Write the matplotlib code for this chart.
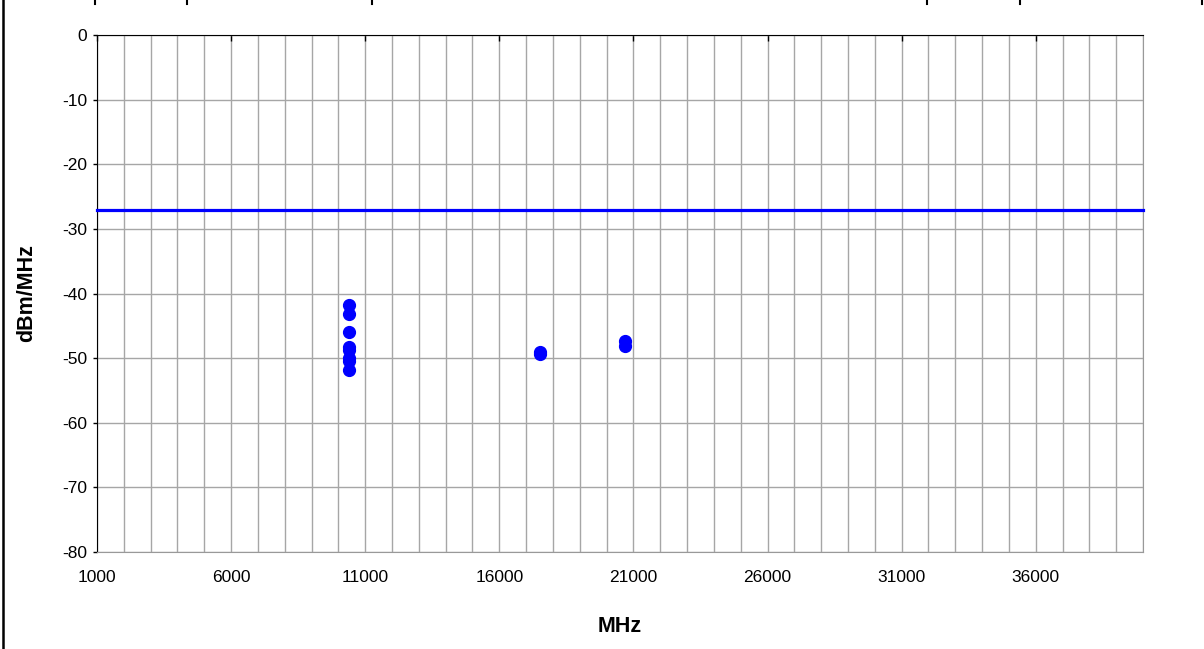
import matplotlib.pyplot as plt
from matplotlib.lines import Line2D

plt.rcParams['font.family'] = ['Liberation Sans', 'DejaVu Sans']
plt.rcParams['axes.unicode_minus'] = False

# measured emissions (MHz, dBm/MHz)
freq_mhz = [10400, 10400, 10400, 10400, 10400, 10400, 10400, 10400,
            17500, 17500, 20700, 20700]
level_dbm = [-41.8, -43.2, -45.9, -48.3, -48.8, -50.0, -50.5, -51.8,
             -49.0, -49.4, -47.3, -48.1]
limit_dbm = -27

x_ticks = list(range(1000, 40000, 5000))
y_ticks = list(range(-80, 1, 10))

fig = plt.figure(figsize=(12.04, 6.49), dpi=100)
ax = fig.add_axes([0.0806, 0.1495, 0.8687, 0.7965])

ax.set_xlim(1000, 40000)
ax.set_ylim(-80, 0)
ax.set_xticks(x_ticks)
ax.set_xticks(range(1000, 40001, 1000), minor=True)
ax.set_yticks(y_ticks)

ax.grid(True, which='both', axis='x', color='#a6a6a6', linewidth=1)
ax.grid(True, which='major', axis='y', color='#a6a6a6', linewidth=1)
ax.set_axisbelow(True)

ax.tick_params(axis='x', which='major', top=True, bottom=False, labeltop=False,
               labelbottom=True, direction='in', length=4, width=1, pad=13,
               labelsize=12.5)
ax.tick_params(axis='x', which='minor', top=False, bottom=False)
ax.tick_params(axis='y', direction='out', length=3, width=1, pad=4,
               labelsize=12.5)

for side in ['left', 'top']:
    ax.spines[side].set_color('black')
for side in ['right', 'bottom']:
    ax.spines[side].set_color('#999999')

ax.axhline(limit_dbm, color='#0000ff', linewidth=2.3, clip_on=False, zorder=3)
ax.plot(freq_mhz, level_dbm, 'o', color='#0000ff', markersize=8.5, zorder=4)

ax.set_xlabel('MHz', fontsize=15.5, fontweight='bold', va='center')
ax.set_ylabel('dBm/MHz', fontsize=15.5, fontweight='bold', va='center')
ax.xaxis.set_label_coords(0.5, (552 - 627) / 517)
ax.yaxis.set_label_coords((27 - 97) / 1046, 0.5)

# frame bits from the surrounding page
fig.add_artist(Line2D([3 / 1204, 3 / 1204], [0, 1], color='black', linewidth=1.8))
for px in [95, 187, 372, 927, 1020, 1202]:
    fig.add_artist(Line2D([px / 1204, px / 1204], [1 - 4 / 649, 1], color='black', linewidth=1.5))

fig.savefig('out.png', dpi=100)
